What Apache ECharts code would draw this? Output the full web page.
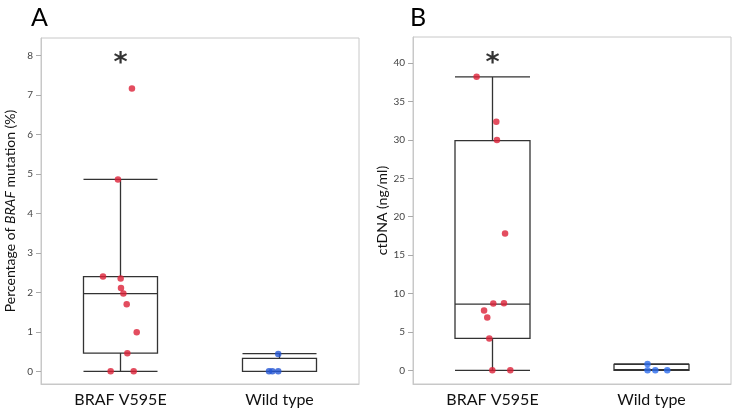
<!DOCTYPE html>
<html>
<head>
<meta charset="utf-8">
<script src="https://cdn.jsdelivr.net/npm/echarts@6/dist/echarts.min.js"></script>
<style>html,body{margin:0;padding:0;background:#fff}#c{width:732px;height:412px}</style>
</head>
<body>
<div id="c"></div>
<script>
// ---- data ----
var categories = ['BRAF V595E', 'Wild type'];
// Panel A: percentage of BRAF mutation (%)
var braf_A = [7.16, 4.86, 2.40, 2.35, 2.11, 1.97, 1.70, 0.99, 0.46, 0, 0];
var braf_A_jitter = [0.072, -0.016, -0.11, 0.001, 0.003, 0.018, 0.039, 0.102, 0.043, -0.062, 0.083];
var wt_A = [0.44, 0, 0, 0];
var wt_A_jitter = [-0.008, -0.066, -0.045, -0.008];
var box_A = [[0, 0.46, 1.97, 2.40, 4.86], [0, 0, 0, 0.33, 0.45]];
var ticks_A = [0, 1, 2, 3, 4, 5, 6, 7, 8];
// Panel B: ctDNA (ng/ml)
var braf_B = [38.22, 32.37, 29.99, 17.81, 8.71, 8.75, 7.80, 6.89, 4.16, 0, 0];
var braf_B_jitter = [-0.100, 0.024, 0.028, 0.079, 0.005, 0.072, -0.053, -0.033, -0.020, -0.001, 0.112];
var wt_B = [0.82, 0, 0, 0];
var wt_B_jitter = [-0.025, -0.025, 0.024, 0.099];
var box_B = [[0, 4.16, 8.62, 29.9, 38.22], [0, 0, 0.1, 0.78, 0.85]];
var ticks_B = [0, 5, 10, 15, 20, 25, 30, 35, 40];

function pts(vals, jit, catIdx) {
  return vals.map(function (v, i) { return [catIdx + jit[i], v]; });
}

var FONT = 'Lato';
var chart = echarts.init(document.getElementById('c'));

function yAxis(gi, min, max, ticks, nameRich, name) {
  return {
    type: 'value', gridIndex: gi, min: min, max: max,
    name: name, nameLocation: 'middle', nameGap: 24,
    nameTextStyle: { fontFamily: FONT, fontSize: 14, color: '#111', rich: nameRich },
    axisLine: { show: true, onZero: false, lineStyle: { color: '#c8c8c8' } },
    axisTick: { show: true, length: 5, lineStyle: { color: '#aaa' }, customValues: ticks },
    axisLabel: { fontFamily: FONT, fontSize: 10, color: '#444', margin: 8, customValues: ticks },
    splitLine: { show: false }
  };
}
function catAxis(gi) {
  return {
    type: 'category', gridIndex: gi, data: categories,
    axisLine: { show: true, onZero: false, lineStyle: { color: '#c8c8c8' } },
    axisTick: { show: false },
    axisLabel: { fontFamily: FONT, fontSize: 16, color: '#111', margin: 8 },
    splitLine: { show: false }
  };
}
function valX(gi) {
  return { type: 'value', gridIndex: gi, min: -0.5, max: 1.5, show: false,
    axisLine: { show: false, onZero: false }, splitLine: { show: false } };
}
var boxStyle = { color: 'rgba(255,255,255,0)', borderColor: '#333', borderWidth: 1.3 };
var starLabel = { show: true, formatter: '*', position: 'inside', fontFamily: 'DejaVu Sans', fontWeight: 'bold', fontSize: 27, color: '#000', offset: [0, 6] };

chart.setOption({
  animation: false,
  backgroundColor: '#fff',
  title: [
    { text: 'A', left: 26, top: 0, textStyle: { fontFamily: FONT, fontSize: 25, fontWeight: 'normal', color: '#000' } },
    { text: 'B', left: 405, top: 0, textStyle: { fontFamily: FONT, fontSize: 25, fontWeight: 'normal', color: '#000' } }
  ],
  grid: [
    { left: 41, top: 38, right: 373, bottom: 28, show: true, borderColor: '#c8c8c8', borderWidth: 1 },
    { left: 413, top: 37, right: 1, bottom: 28, show: true, borderColor: '#c8c8c8', borderWidth: 1 }
  ],
  xAxis: [catAxis(0), catAxis(1), valX(0), valX(1)],
  yAxis: [
    yAxis(0, -0.32, 8.44, ticks_A, { i: { fontStyle: 'italic', fontFamily: FONT, fontSize: 14, color: '#111' } }, 'Percentage of {i|BRAF} mutation (%)'),
    yAxis(1, -1.78, 43.4, ticks_B, {}, 'ctDNA (ng/ml)')
  ],
  series: [
    { type: 'boxplot', xAxisIndex: 0, yAxisIndex: 0, data: box_A, boxWidth: [74, 74], itemStyle: boxStyle },
    { type: 'boxplot', xAxisIndex: 1, yAxisIndex: 1, data: box_B, boxWidth: [75, 75], itemStyle: boxStyle },
    { type: 'scatter', xAxisIndex: 2, yAxisIndex: 0, data: pts(braf_A, braf_A_jitter, 0), symbolSize: 6.5, itemStyle: { color: '#dc2137' } },
    { type: 'scatter', xAxisIndex: 2, yAxisIndex: 0, data: pts(wt_A, wt_A_jitter, 1), symbolSize: 6.5, itemStyle: { color: '#2456d4' } },
    { type: 'scatter', xAxisIndex: 3, yAxisIndex: 1, data: pts(braf_B, braf_B_jitter, 0), symbolSize: 6.5, itemStyle: { color: '#dc2137' } },
    { type: 'scatter', xAxisIndex: 3, yAxisIndex: 1, data: pts(wt_B, wt_B_jitter, 1), symbolSize: 6.5, itemStyle: { color: '#2c6cec' } },
    { type: 'scatter', xAxisIndex: 2, yAxisIndex: 0, data: [[0, 7.93]], symbolSize: 0, label: starLabel },
    { type: 'scatter', xAxisIndex: 3, yAxisIndex: 1, data: [[0, 40.7]], symbolSize: 0, label: starLabel }
  ]
});
</script>
</body>
</html>
